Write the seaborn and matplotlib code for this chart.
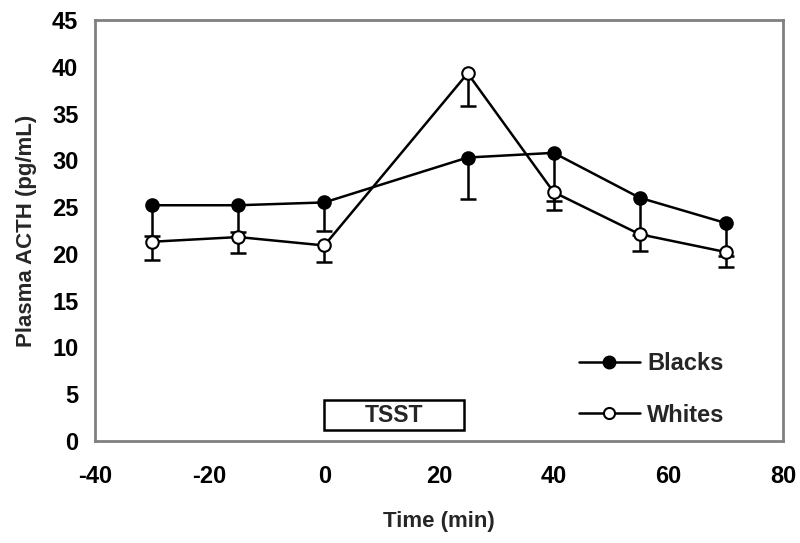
import matplotlib
matplotlib.use("Agg")
import matplotlib.pyplot as plt
import seaborn as sns
import pandas as pd
from matplotlib.patches import Rectangle
from matplotlib.lines import Line2D

# ---- data ----
times = [-30, -15, 0, 25, 40, 55, 70]
blacks_mean = [25.2, 25.2, 25.5, 30.3, 30.8, 26.0, 23.3]
blacks_lower = [21.9, 22.3, 22.4, 25.9, 25.6, 22.0, 19.8]
whites_mean = [21.3, 21.8, 20.9, 39.3, 26.6, 22.1, 20.2]
whites_lower = [19.3, 20.1, 19.1, 35.8, 24.7, 20.3, 18.6]
groups = ["Blacks", "Whites"]
x_label = "Time (min)"
y_label = "Plasma ACTH (pg/mL)"
box_label = "TSST"
box_start, box_end = 0, 24.3

df = pd.DataFrame({
    "time": times * 2,
    "acth": blacks_mean + whites_mean,
    "lower": blacks_lower + whites_lower,
    "group": [groups[0]] * len(times) + [groups[1]] * len(times),
})

sns.set_theme(style="white")
plt.rcParams["font.family"] = ["Liberation Sans", "DejaVu Sans"]
plt.rcParams["font.weight"] = "bold"
plt.rcParams["axes.unicode_minus"] = False

fig = plt.figure(figsize=(8, 5.43), dpi=100)
ax = fig.add_axes([0.11875, 0.1878, 0.86, 0.7754])

# error bars (downward only)
for g in groups:
    d = df[df.group == g]
    ax.vlines(d["time"], d["lower"], d["acth"], colors="black", linewidth=1.8, zorder=2)
    ax.plot(d["time"], d["lower"], ls="none", marker="_", markersize=11,
            markeredgewidth=1.8, color="black", zorder=2)

styles = {"Blacks": dict(markerfacecolor="black", zorder=3),
          "Whites": dict(markerfacecolor="white", zorder=4)}
for g in groups:
    d = df[df.group == g]
    sns.lineplot(data=d, x="time", y="acth", ax=ax, color="black", linewidth=1.8,
                 marker="o", markersize=9, markeredgecolor="black",
                 markeredgewidth=1.5, legend=False, **styles[g])

# TSST box
ax.add_patch(Rectangle((box_start, 1.2), box_end - box_start, 3.2, fill=False,
                       edgecolor="black", linewidth=1.8, zorder=3))
ax.text((box_start + box_end) / 2, 2.75, box_label, ha="center", va="center",
        fontsize=16.5, fontweight="bold")

ax.set_xlim(-40, 80)
ax.set_ylim(0, 45)
ax.set_xticks(range(-40, 81, 20))
ax.set_yticks(range(0, 46, 5))
ax.set_xlabel(x_label, fontsize=16, fontweight="bold", labelpad=17)
ax.set_ylabel(y_label, fontsize=16, fontweight="bold", labelpad=11)
ax.tick_params(axis="both", labelsize=17, colors="black", length=5, width=1.5,
               direction="out", color="#808080")
ax.tick_params(axis="x", pad=12)
ax.tick_params(axis="y", pad=7)
for lbl in ax.get_xticklabels() + ax.get_yticklabels():
    lbl.set_fontweight("bold")
for s in ax.spines.values():
    s.set_color("#808080")
    s.set_linewidth(2)
    s.set_visible(True)

handles = [
    Line2D([], [], color="black", linewidth=1.8, marker="o", markersize=9,
           markerfacecolor="black", markeredgecolor="black"),
    Line2D([], [], color="black", linewidth=1.8, marker="o", markersize=8,
           markerfacecolor="white", markeredgecolor="black", markeredgewidth=1.5),
]
ax.legend(handles, groups, loc="upper left", bbox_to_anchor=(0.686, 0.239),
          frameon=False, handlelength=2.6, handletextpad=0.3,
          labelspacing=1.2, borderpad=0, prop={"weight": "bold", "size": 17})

fig.savefig("out.png", dpi=100)
